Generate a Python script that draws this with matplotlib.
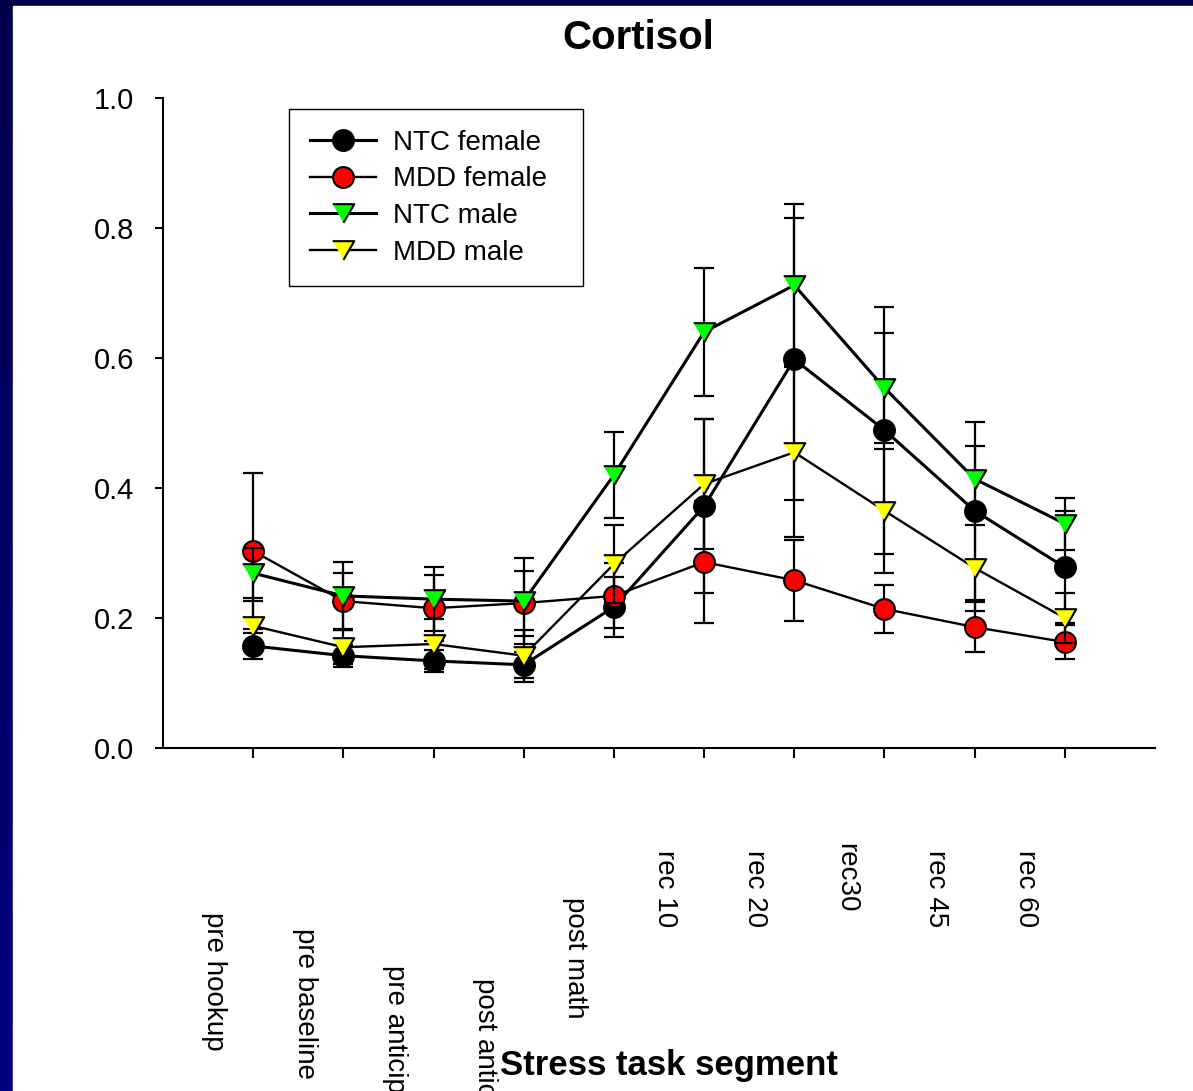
import numpy as np
import matplotlib
matplotlib.use("Agg")
import matplotlib.pyplot as plt
from matplotlib.patches import Rectangle
from matplotlib.ticker import FormatStrFormatter
import matplotlib.transforms as mtransforms

# ------------------------------------------------------------------
# data
# ------------------------------------------------------------------
segments = ["pre hookup", "pre baseline", "pre anticipation", "post anticipation",
            "post math", "rec 10", "rec 20", "rec30", "rec 45", "rec 60"]
x = np.arange(1, len(segments) + 1)

ntc_female = [0.157, 0.142, 0.134, 0.128, 0.217, 0.372, 0.598, 0.489, 0.365, 0.278]
ntc_female_err = [0.020, 0.017, 0.017, 0.020, 0.046, 0.134, 0.217, 0.190, 0.137, 0.086]

mdd_female = [0.303, 0.226, 0.215, 0.223, 0.234, 0.286, 0.258, 0.214, 0.186, 0.163]
mdd_female_err = [0.120, 0.043, 0.051, 0.050, 0.050, 0.094, 0.062, 0.037, 0.038, 0.026]

ntc_male = [0.269, 0.234, 0.229, 0.226, 0.420, 0.640, 0.712, 0.554, 0.414, 0.345]
ntc_male_err = [0.038, 0.052, 0.049, 0.066, 0.066, 0.099, 0.125, 0.085, 0.051, 0.040]

mdd_male = [0.188, 0.155, 0.160, 0.142, 0.283, 0.406, 0.455, 0.365, 0.277, 0.200]
mdd_male_err = [0.038, 0.026, 0.038, 0.040, 0.060, 0.100, 0.131, 0.095, 0.066, 0.038]

# ------------------------------------------------------------------
# style
# ------------------------------------------------------------------
plt.rcParams["font.family"] = ["Liberation Sans", "DejaVu Sans"]

W, H = 1193, 1091
fig = plt.figure(figsize=(W / 100, H / 100), dpi=100)

# slide background: navy gradient strip on left/top, white page
bg = fig.add_axes([0, 0, 1, 1], zorder=-10)
grad = np.linspace(0, 1, 256).reshape(-1, 1)
bg.imshow(grad, aspect="auto", extent=[0, 1, 0, 1], origin="upper",
          cmap=matplotlib.colors.LinearSegmentedColormap.from_list(
              "navy", ["#00004a", "#000080"]))
bg.add_patch(Rectangle((13 / W, 0), 1, 1 - 6 / H, color="white"))
bg.set_xlim(0, 1)
bg.set_ylim(0, 1)
bg.axis("off")

ax = fig.add_axes([163 / W, 1 - 748 / H, (1155 - 163) / W, (748 - 98) / H])
ax.set_facecolor("none")

tri = [(-1, 0.866), (1, 0.866), (0, -0.866)]

series = [
    ("NTC female", ntc_female, ntc_female_err, "o", "black", 2.2, 15),
    ("MDD female", mdd_female, mdd_female_err, "o", "#ff0000", 1.7, 15),
    ("NTC male", ntc_male, ntc_male_err, tri, "#00ff00", 2.2, 15.5),
    ("MDD male", mdd_male, mdd_male_err, tri, "#ffff00", 1.7, 15.5),
]

for i, (label, y, yerr, mk, fc, lw, ms) in enumerate(series):
    z = 3 + 2 * i
    ax.errorbar(x, y, yerr=yerr, fmt="none", ecolor="black", elinewidth=1.6,
                capsize=7.5, capthick=1.6, zorder=z)
    ax.plot(x, y, "-", color="black", lw=lw, marker=mk, ms=ms,
            markerfacecolor=fc, markeredgecolor="black", markeredgewidth=1.5,
            label=label, zorder=z + 1)

# ------------------------------------------------------------------
# axes formatting (SigmaPlot look)
# ------------------------------------------------------------------
ax.set_xlim(0, 11)
ax.set_ylim(0, 1.0)
ax.set_xticks(x)
ax.set_xticklabels([])
ax.set_yticks(np.arange(0, 1.01, 0.2))
ax.yaxis.set_major_formatter(FormatStrFormatter("%.1f"))

ax.spines["top"].set_visible(False)
ax.spines["right"].set_visible(False)
ax.spines["left"].set_linewidth(1.5)
ax.spines["bottom"].set_linewidth(1.5)
ax.tick_params(axis="y", direction="out", length=6, width=1.5, labelsize=21, pad=15)
ax.tick_params(axis="x", direction="out", length=7, width=1.5)

# staggered, rotated category labels
label_tops = [912, 928, 965, 978, 897, 850, 850, 843, 850, 850]
trans = mtransforms.blended_transform_factory(ax.transData, fig.transFigure)
for xi, name, top in zip(x, segments, label_tops):
    ax.text(xi - 0.43, 1 - top / H, name, rotation=-90, ha="center", va="top",
            fontsize=20, transform=trans, clip_on=False)

fig.text(638 / W, 1 - 38 / H, "Cortisol", ha="center", va="center",
         fontsize=29, fontweight="bold")
fig.text(669 / W, 1 - 1066 / H, "Stress task segment", ha="center", va="center",
         fontsize=25, fontweight="bold")

leg_h = (285 - 109) / 650
leg = ax.legend(loc="upper left", bbox_to_anchor=(0.127, 0.983 - leg_h, 294 / 992, leg_h),
                mode="expand", borderaxespad=0,
                fontsize=20, frameon=True, fancybox=False, framealpha=1,
                edgecolor="black", handlelength=2.4, handletextpad=0.6,
                labelspacing=0.38, borderpad=0.75)
leg.get_frame().set_linewidth(1.0)

fig.savefig("out.png", dpi=100)
